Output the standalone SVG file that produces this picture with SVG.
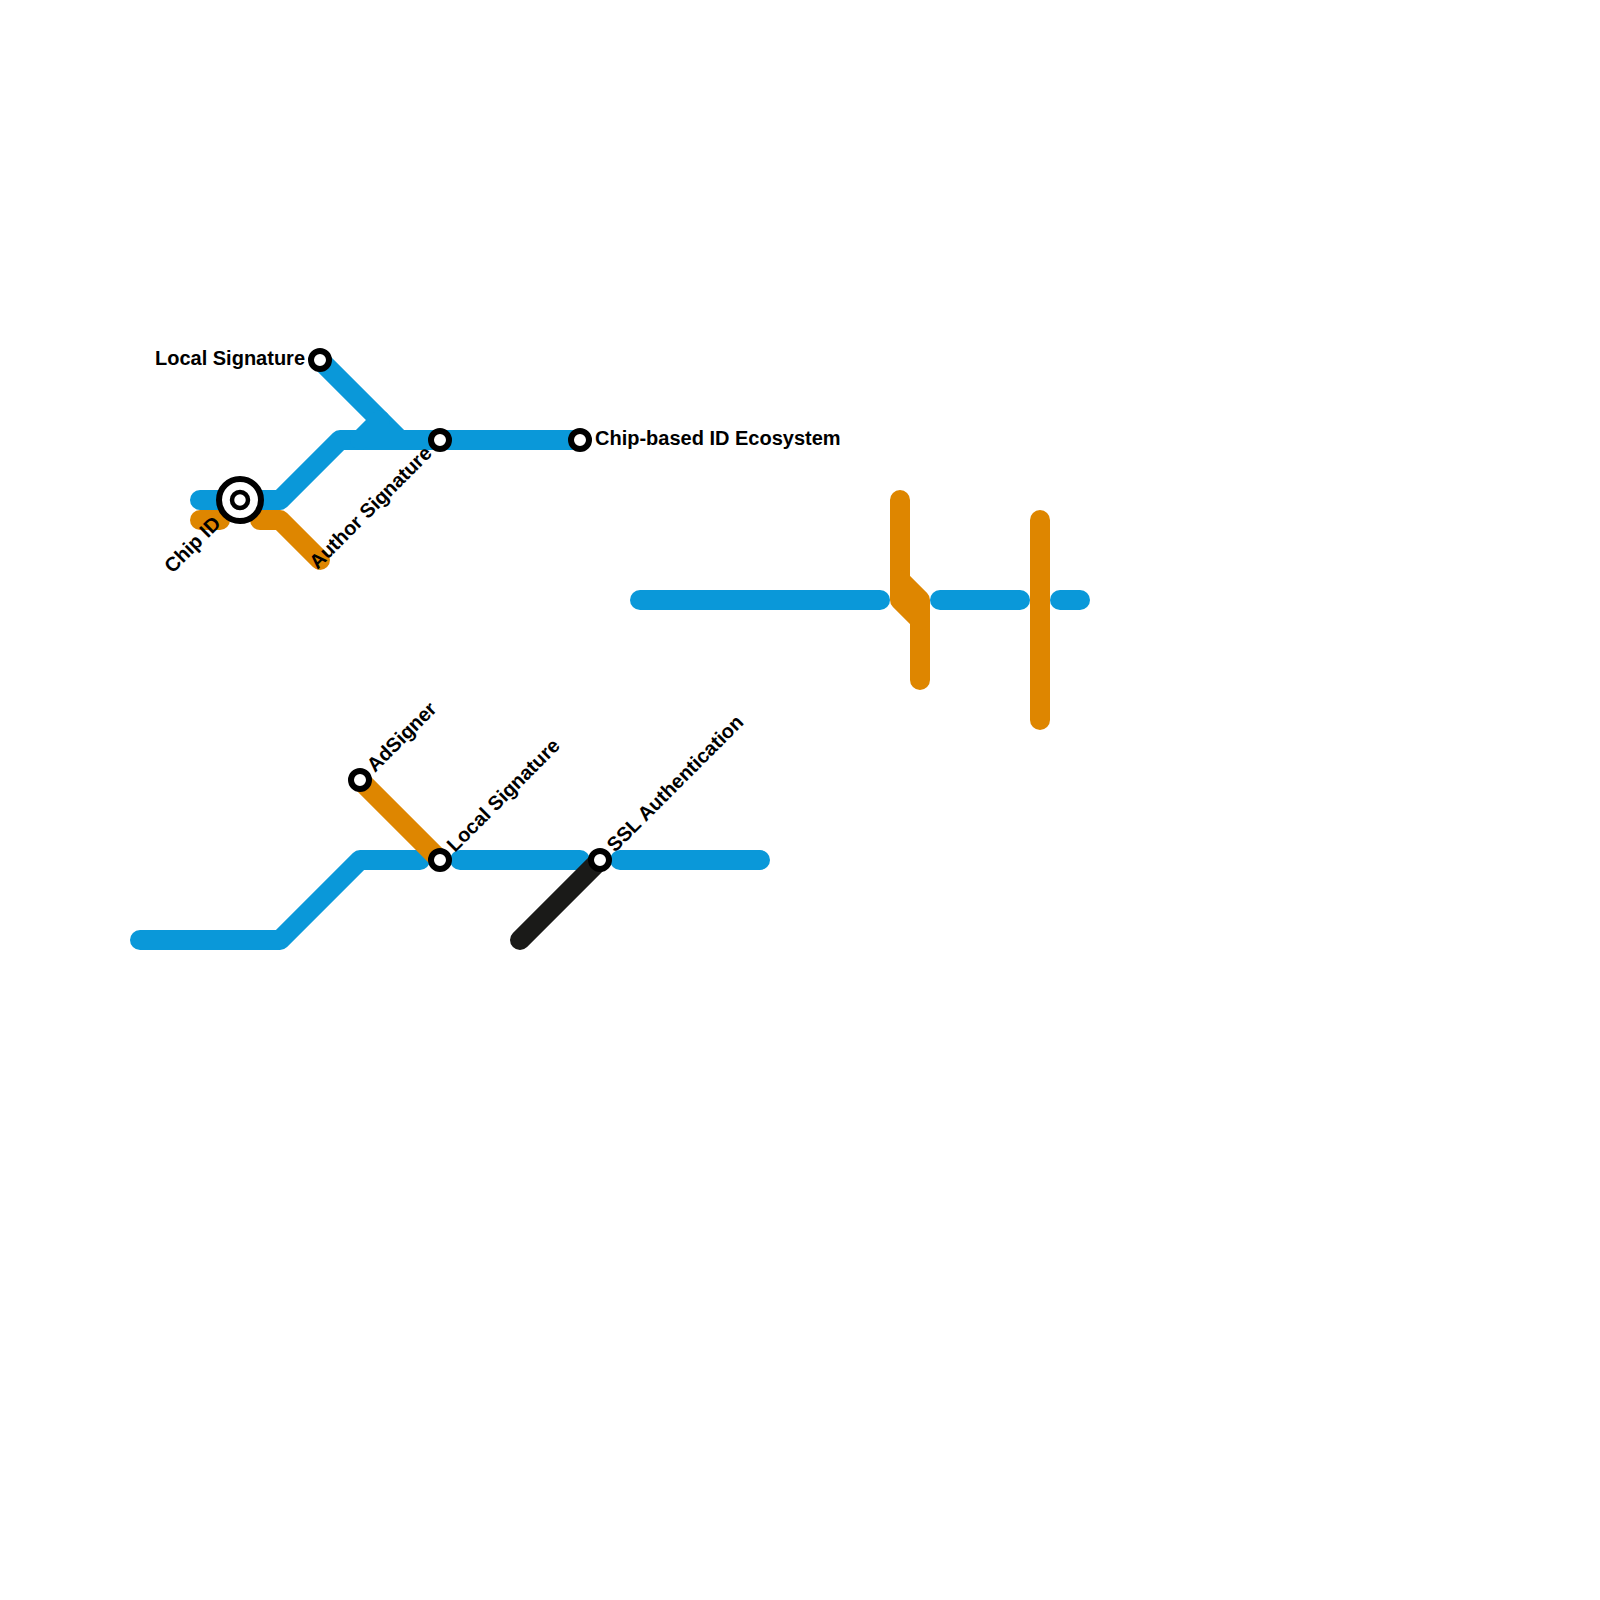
<svg xmlns="http://www.w3.org/2000/svg" width="1600" height="1600" viewBox="0 0 1600 1600">
<style>
.l{fill:none;stroke-width:20;stroke-linecap:round;stroke-linejoin:round}
.b{stroke:#0a98d9}.o{stroke:#de8600}.k{stroke:#1a1a18}
.s{fill:#fff;stroke:#000;stroke-width:6}
.t{font-family:"Liberation Sans",Arial,sans-serif;font-size:20px;font-weight:700;fill:#000}
.e{text-anchor:end}
</style>
<rect width="1600" height="1600" fill="#fff"/>
<g id="connectors">
<path class="l o" d="M200 520H220"/>
<path class="l o" d="M260 520H280L320 560"/>
<path class="l b" d="M320 360L400 440H580"/>
<path class="l b" d="M200 500H280L340 440H440"/>
<path class="l b" d="M360 440L380 420"/>
<path class="l b" d="M640 600H880"/>
<path class="l b" d="M940 600H1020"/>
<path class="l b" d="M1060 600H1080"/>
<path class="l b" d="M140 940H280L360 860H420"/>
<path class="l b" d="M460 860H580"/>
<path class="l b" d="M620 860H760"/>
<path class="l o" d="M900 500V600L920 620V680"/>
<path class="l o" d="M900 580L920 600V620"/>
<path class="l o" d="M1040 520V720"/>
<path class="l o" d="M360 780L440 860"/>
<path class="l k" d="M520 940L600 860"/>
</g>
<g id="n-local-top"><circle class="s" cx="320" cy="360" r="9"/><text class="t e" x="305" y="365">Local Signature</text></g>
<g id="n-author"><circle class="s" cx="440" cy="440" r="9"/><text class="t e" transform="translate(433 454.5) rotate(-45)">Author Signature</text></g>
<g id="n-chip-eco"><circle class="s" cx="580" cy="440" r="9"/><text class="t" x="595" y="445">Chip-based ID Ecosystem</text></g>
<g id="n-chip-id"><circle class="s" cx="240" cy="500" r="21"/><circle fill="#fff" stroke="#000" stroke-width="4.5" cx="240" cy="500" r="8"/><text class="t e" transform="translate(222 524.5) rotate(-45)">Chip ID</text></g>
<g id="n-adsigner"><circle class="s" cx="360" cy="780" r="9"/><text class="t" transform="translate(375 773) rotate(-45)">AdSigner</text></g>
<g id="n-local-bottom"><circle class="s" cx="440" cy="860" r="9"/><text class="t" transform="translate(455 853) rotate(-45)">Local Signature</text></g>
<g id="n-ssl"><circle class="s" cx="600" cy="860" r="9"/><text class="t" transform="translate(615 853) rotate(-45)">SSL Authentication</text></g>
</svg>
